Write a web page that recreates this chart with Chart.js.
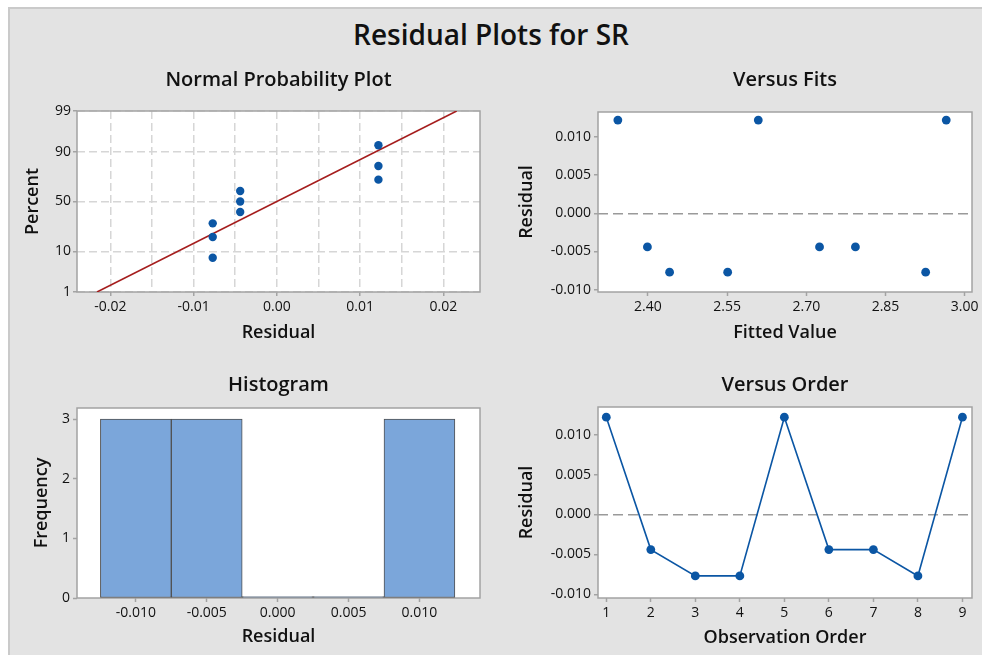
<!DOCTYPE html>
<html lang="en">
<head>
<meta charset="UTF-8">
<title>Residual Plots for SR</title>
<script src="https://cdn.jsdelivr.net/npm/chart.js"></script>
<style>
  html, body { margin: 0; padding: 0; background: #fff; overflow: hidden; }
  body { width: 982px; height: 655px; position: relative; font-family: 'Open Sans', sans-serif; }
  #frame { position: absolute; left: 8px; top: 7px; width: 974px; height: 648px;
           background: #e3e3e3; border-left: 2px solid #cacaca; border-top: 2px solid #cacaca; box-sizing: border-box; }
  #main-title { position: absolute; left: 0; width: 982px; top: 14px; text-align: center;
                font-size: 28px; font-weight: 600; color: #111; line-height: 40px; }
  canvas { position: absolute; }
</style>
</head>
<body>
<div id="frame"></div>
<div id="main-title">Residual Plots for SR</div>
<canvas id="npp"></canvas>
<canvas id="fits"></canvas>
<canvas id="hist"></canvas>
<canvas id="order"></canvas>

<script>
// ---- data ----
const observation = [1, 2, 3, 4, 5, 6, 7, 8, 9];
const residuals = [0.0122, -0.0044, -0.0077, -0.0077, 0.0122, -0.0044, -0.0044, -0.0077, 0.0122];
const fittedValues = [2.343, 2.399, 2.441, 2.551, 2.609, 2.725, 2.793, 2.926, 2.965];

// normal probability plot (sorted residuals and their plotting percent)
const nppResidual = [-0.0077, -0.0077, -0.0077, -0.0044, -0.0044, -0.0044, 0.0122, 0.0122, 0.0122];
const nppPercent = [7.4, 18.1, 28.7, 39.4, 50, 60.6, 71.3, 81.9, 92.6];
const fitResidual = [-0.0216, 0.0216];
const fitPercent = [1, 99];
const percentTicks = [1, 10, 50, 90, 99];
const nppResidualTicks = [-0.02, -0.015, -0.01, -0.005, 0, 0.005, 0.01, 0.015, 0.02];

// histogram
const binCenters = [-0.010, -0.005, 0.000, 0.005, 0.010];
const binCounts = [3, 3, 0, 0, 3];
const histCountTicks = [0, 1, 2, 3];
const histResidualTicks = [-0.010, -0.005, 0.000, 0.005, 0.010];

// residual ticks for versus plots
const residualTicks = [-0.010, -0.005, 0.000, 0.005, 0.010];
const fittedTicks = [2.40, 2.55, 2.70, 2.85, 3.00];

// ---- colours / fonts ----
const BLUE = '#0b56a4';
const RED = '#a51d1d';
const FRAME = '#a3a3a3';
const TITLE_FONT = { family: 'Open Sans', size: 20, weight: '600', lineHeight: 1.2 };
const AXIS_FONT = { family: 'Open Sans', size: 18, weight: '600', lineHeight: 1.2 };
const TICK_FONT = { family: 'Open Sans', size: 14 };

Chart.defaults.animation = false;
Chart.defaults.font.family = 'Open Sans';
Chart.defaults.color = '#111';

// inverse normal cdf (Acklam) for the probability axis
function probit(p) {
  const a = [-3.969683028665376e+01, 2.209460984245205e+02, -2.759285104469687e+02, 1.383577518672690e+02, -3.066479806614716e+01, 2.506628277459239e+00];
  const b = [-5.447609879822406e+01, 1.615858368580409e+02, -1.556989798598866e+02, 6.680131188771972e+01, -1.328068155288572e+01];
  const c = [-7.784894002430293e-03, -3.223964580411365e-01, -2.400758277161838e+00, -2.549732539343734e+00, 4.374664141464968e+00, 2.938163982698783e+00];
  const d = [7.784695709041462e-03, 3.224671290700398e-01, 2.445134137142996e+00, 3.754408661907416e+00];
  const pl = 0.02425;
  if (p < pl) {
    const q = Math.sqrt(-2 * Math.log(p));
    return (((((c[0]*q+c[1])*q+c[2])*q+c[3])*q+c[4])*q+c[5]) / ((((d[0]*q+d[1])*q+d[2])*q+d[3])*q+1);
  }
  if (p > 1 - pl) {
    const q = Math.sqrt(-2 * Math.log(1 - p));
    return -(((((c[0]*q+c[1])*q+c[2])*q+c[3])*q+c[4])*q+c[5]) / ((((d[0]*q+d[1])*q+d[2])*q+d[3])*q+1);
  }
  const q = p - 0.5, r = q * q;
  return (((((a[0]*r+a[1])*r+a[2])*r+a[3])*r+a[4])*r+a[5])*q / (((((b[0]*r+b[1])*r+b[2])*r+b[3])*r+b[4])*r+1);
}

// percent axis on a normal probability scale
class ProbitScale extends Chart.LinearScale {
  determineDataLimits() { this.min = this.options.min; this.max = this.options.max; }
  buildTicks() { return percentTicks.map(v => ({ value: v })); }
  configure() {
    super.configure();
    this._startValue = probit(this.min / 100);
    this._valueRange = probit(this.max / 100) - this._startValue;
  }
  getPixelForValue(v) {
    return this.getPixelForDecimal((probit(v / 100) - this._startValue) / this._valueRange);
  }
}
ProbitScale.id = 'probit';
ProbitScale.defaults = Chart.LinearScale.defaults;
Chart.register(ProbitScale);

// white plot area + grey frame
const plotFrame = {
  id: 'plotFrame',
  beforeDraw(chart) {
    const a = chart.chartArea, ctx = chart.ctx;
    ctx.save();
    ctx.fillStyle = '#fff';
    ctx.fillRect(a.left, a.top, a.right - a.left, a.bottom - a.top);
    ctx.restore();
  },
  beforeDatasetsDraw(chart) {
    const a = chart.chartArea, ctx = chart.ctx;
    ctx.save();
    ctx.strokeStyle = FRAME;
    ctx.lineWidth = 1.5;
    ctx.strokeRect(a.left, a.top, a.right - a.left, a.bottom - a.top);
    ctx.restore();
  }
};

function fixedTicks(list) {
  return scale => { scale.ticks = list.map(v => ({ value: v })); };
}

function axis(extra) {
  return Object.assign({
    type: 'linear',
    offset: false,
    border: { display: false },
    grid: { display: true, drawOnChartArea: false, drawTicks: true, tickLength: 4,
            tickColor: FRAME, tickWidth: 1.5, offset: false },
    ticks: { font: TICK_FONT, color: '#111', padding: 3, maxRotation: 0, autoSkip: false }
  }, extra);
}

// place a panel: box = canvas rect, plot = plot area rect, m = text positions
function panel(id, box, plot, m, type, datasets, xScale, yScale) {
  const cv = document.getElementById(id);
  cv.width = box.r - box.l;
  cv.height = box.b - box.t;
  cv.style.left = box.l + 'px';
  cv.style.top = box.t + 'px';
  const tlh = TITLE_FONT.size * TITLE_FONT.lineHeight;
  const alh = AXIS_FONT.size * AXIS_FONT.lineHeight;
  const tTop = m.title - box.t - tlh / 2;
  const tBottom = plot.t - box.t - tTop - tlh;
  xScale.afterFit = s => { s.height = box.b - plot.b; };
  yScale.afterFit = s => { s.width = plot.l - box.l; };
  xScale.title = { display: true, text: m.xText, font: AXIS_FONT, color: '#111',
                   padding: { top: 0, bottom: box.b - m.x - alh / 2 } };
  yScale.title = { display: true, text: m.yText, font: AXIS_FONT, color: '#111',
                   padding: { top: m.y - box.l - alh / 2, bottom: 0 } };
  return new Chart(cv, {
    type: type,
    data: { datasets: datasets },
    options: {
      responsive: false,
      layout: { padding: { left: 0, top: 0, bottom: 0, right: box.r - plot.r } },
      scales: { x: xScale, y: yScale },
      plugins: {
        legend: { display: false },
        tooltip: { enabled: false },
        title: { display: true, text: m.titleText, font: TITLE_FONT, color: '#111',
                 fullSize: false, padding: { top: tTop, bottom: tBottom } }
      }
    },
    plugins: [plotFrame]
  });
}

const zeroLine = {
  color: ctx => (ctx.tick && ctx.tick.value === 0) ? '#9a9a9a' : 'rgba(0,0,0,0)',
  lineWidth: 1.5
};

// ---- Normal Probability Plot ----
panel('npp',
  { l: 8, t: 58, r: 491, b: 355 }, { l: 77, t: 111, r: 480, b: 292 },
  { title: 80, x: 333, y: 33, titleText: 'Normal Probability Plot', xText: 'Residual', yText: 'Percent' },
  'scatter',
  [
    { data: nppResidual.map((r, i) => ({ x: r, y: nppPercent[i] })),
      backgroundColor: BLUE, borderWidth: 0, pointRadius: 4.2 },
    { data: fitResidual.map((r, i) => ({ x: r, y: fitPercent[i] })),
      showLine: true, borderColor: RED, borderWidth: 1.6, pointRadius: 0 }
  ],
  axis({
    min: -0.024, max: 0.0244,
    afterBuildTicks: fixedTicks(nppResidualTicks),
    border: { display: false, dash: [8, 4] },
    grid: { display: true, drawOnChartArea: true, drawTicks: true, tickLength: 4,
            color: '#d6d6d6', lineWidth: 1.5, offset: false,
            tickColor: ctx => (Math.abs(Math.round(ctx.tick.value * 100) - ctx.tick.value * 100) < 1e-6) ? FRAME : 'rgba(0,0,0,0)',
            tickWidth: 1.5 },
    ticks: { font: TICK_FONT, color: '#111', padding: 3, maxRotation: 0, autoSkip: false,
             callback: v => (Math.abs(Math.round(v * 100) - v * 100) < 1e-6) ? v.toFixed(2) : '' }
  }),
  axis({
    type: 'probit', min: 1, max: 99,
    border: { display: false, dash: [8, 4] },
    grid: { display: true, drawOnChartArea: true, drawTicks: true, tickLength: 4,
            color: '#d6d6d6', lineWidth: 1.5, tickColor: FRAME, tickWidth: 1.5 },
    ticks: { font: TICK_FONT, color: '#111', padding: 2, autoSkip: false, callback: v => String(v) }
  })
);

// ---- Versus Fits ----
panel('fits',
  { l: 491, t: 58, r: 982, b: 355 }, { l: 598, t: 112, r: 972, b: 292 },
  { title: 80, x: 333, y: 527, titleText: 'Versus Fits', xText: 'Fitted Value', yText: 'Residual' },
  'scatter',
  [
    { data: fittedValues.map((f, i) => ({ x: f, y: residuals[i] })),
      backgroundColor: BLUE, borderWidth: 0, pointRadius: 4.4 }
  ],
  axis({
    min: 2.3054, max: 3.0138,
    afterBuildTicks: fixedTicks(fittedTicks),
    ticks: { font: TICK_FONT, color: '#111', padding: 3, maxRotation: 0, autoSkip: false, callback: v => v.toFixed(2) }
  }),
  axis({
    min: -0.0103, max: 0.01326,
    afterBuildTicks: fixedTicks(residualTicks),
    border: { display: false, dash: [10, 5] },
    grid: Object.assign({ display: true, drawOnChartArea: true, drawTicks: true, tickLength: 4,
                          tickColor: FRAME, tickWidth: 1.5 }, zeroLine),
    ticks: { font: TICK_FONT, color: '#111', padding: 3, autoSkip: false, callback: v => v.toFixed(3) }
  })
);

// ---- Histogram ----
panel('hist',
  { l: 8, t: 362, r: 491, b: 655 }, { l: 77, t: 408, r: 480, b: 598 },
  { title: 385, x: 637, y: 42, titleText: 'Histogram', xText: 'Residual', yText: 'Frequency' },
  'bar',
  [
    { data: binCenters.map((c, i) => ({ x: c, y: binCounts[i] })),
      backgroundColor: '#7ba6da', borderColor: '#505050', borderWidth: 1,
      borderSkipped: false, barPercentage: 1, categoryPercentage: 1, minBarLength: 1.5 }
  ],
  axis({
    min: -0.01415, max: 0.01427,
    afterBuildTicks: fixedTicks(histResidualTicks),
    ticks: { font: TICK_FONT, color: '#111', padding: 3, maxRotation: 0, autoSkip: false, callback: v => v.toFixed(3) }
  }),
  axis({
    min: 0, max: 3.185, beginAtZero: true,
    afterBuildTicks: fixedTicks(histCountTicks),
    ticks: { font: TICK_FONT, color: '#111', padding: 3, autoSkip: false, callback: v => String(v) }
  })
);

// ---- Versus Order ----
panel('order',
  { l: 491, t: 362, r: 982, b: 655 }, { l: 598, t: 407, r: 972, b: 598 },
  { title: 385, x: 638, y: 527, titleText: 'Versus Order', xText: 'Observation Order', yText: 'Residual' },
  'line',
  [
    { data: observation.map((o, i) => ({ x: o, y: residuals[i] })),
      borderColor: BLUE, borderWidth: 1.6, backgroundColor: BLUE,
      pointBackgroundColor: BLUE, pointBorderWidth: 0, pointRadius: 4.4, tension: 0 }
  ],
  axis({
    min: 0.814, max: 9.215,
    afterBuildTicks: fixedTicks(observation),
    ticks: { font: TICK_FONT, color: '#111', padding: 3, maxRotation: 0, autoSkip: false, callback: v => String(v) }
  }),
  axis({
    min: -0.01047, max: 0.01348,
    afterBuildTicks: fixedTicks(residualTicks),
    border: { display: false, dash: [10, 5] },
    grid: Object.assign({ display: true, drawOnChartArea: true, drawTicks: true, tickLength: 4,
                          tickColor: FRAME, tickWidth: 1.5 }, zeroLine),
    ticks: { font: TICK_FONT, color: '#111', padding: 3, autoSkip: false, callback: v => v.toFixed(3) }
  })
);
</script>
</body>
</html>
